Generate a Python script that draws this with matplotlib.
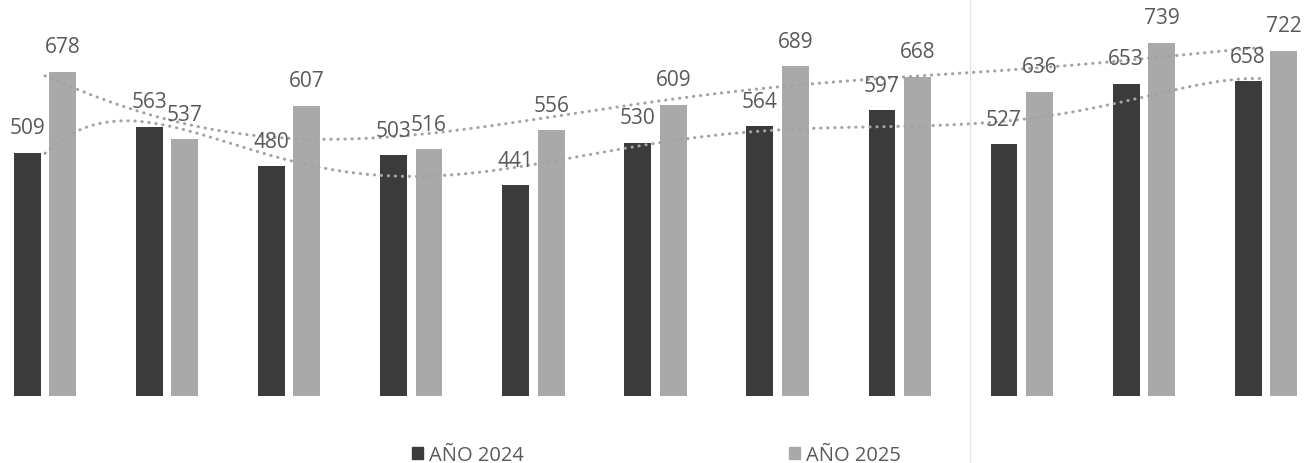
import numpy as np
import matplotlib.pyplot as plt
from matplotlib.lines import Line2D

plt.rcParams['font.family'] = ['Open Sans', 'DejaVu Sans']

# data
months = list(range(11))
anio_2024 = [509, 563, 480, 503, 441, 530, 564, 597, 527, 653, 658]
anio_2025 = [678, 537, 607, 516, 556, 609, 689, 668, 636, 739, 722]
series_names = ['AÑO 2024', 'AÑO 2025']

dark = '#3b3b3b'
light = '#a9a9a9'
txt = '#595959'
trend_col = '#a3a3a3'

fig = plt.figure(figsize=(13.05, 4.64), dpi=100)
ax = fig.add_axes([0, 0.144, 1, 0.856])

x = np.array(months, dtype=float)
w = 0.22
off = 0.145
b1 = ax.bar(x - off, anio_2024, w, color=dark, zorder=2)
b2 = ax.bar(x + off, anio_2025, w, color=light, zorder=2)

for bars in (b1, b2):
    for r in bars:
        ax.annotate(f'{int(r.get_height())}',
                    (r.get_x() + r.get_width() / 2, r.get_height()),
                    xytext=(0, 14), textcoords='offset points',
                    ha='center', va='baseline', fontsize=15, color=txt, zorder=4)

# polynomial trendlines (order 6), like the spreadsheet ones
xs = np.linspace(0, 10, 300)
for vals in (anio_2024, anio_2025):
    coef = np.polyfit(x, vals, 6)
    ax.plot(xs, np.polyval(coef, xs), color=trend_col, lw=2.2,
            linestyle=(0, (0.1, 2.2)), dash_capstyle='round', zorder=3)

ax.set_xlim(-0.369, 10.32)
ax.set_ylim(0, 830)
ax.axis('off')

# faint vertical line from the scan
fig.add_artist(Line2D([970 / 1305, 970 / 1305], [0, 1], color='#e2e2e2', lw=1))

handles = [plt.Rectangle((0, 0), 1, 1, color=dark), plt.Rectangle((0, 0), 1, 1, color=light)]
fig.legend(handles, series_names, loc='lower center', bbox_to_anchor=(0.503, -0.043), ncol=2,
           frameon=False, fontsize=14.5, labelcolor=txt, handlelength=0.55, handleheight=0.55,
           handletextpad=0.3, columnspacing=13.2)

fig.savefig('out.png', dpi=100)
